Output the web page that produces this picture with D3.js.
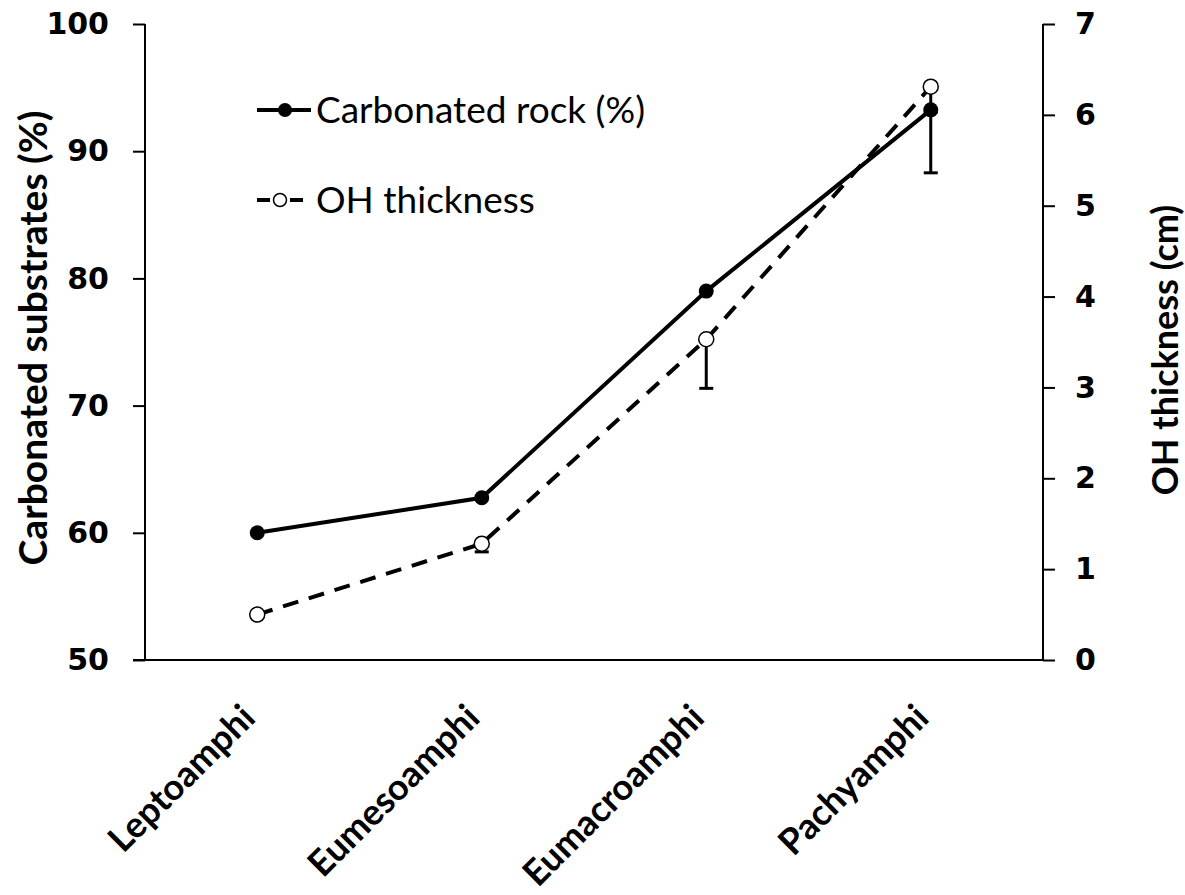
<!DOCTYPE html>
<html>
<head>
<meta charset="utf-8">
<script src="https://cdn.jsdelivr.net/npm/d3@7"></script>
<style>
  body { margin: 0; background: #fff; }
</style>
</head>
<body>
<div id="chart"></div>
<script>
// chart values
var categories = ["Leptoamphi", "Eumesoamphi", "Eumacroamphi", "Pachyamphi"];
var carbonated = [60.0, 62.75, 79.0, 93.25];
var carbonatedErr = [0, 0, 0, 4.95];
var ohThickness = [0.50, 1.28, 3.53, 6.31];
var ohErr = [0, 0.09, 0.54, 0.28];
var leftTicks = [50, 60, 70, 80, 90, 100];
var rightTicks = [0, 1, 2, 3, 4, 5, 6, 7];

// set the dimensions and margins of the graph
var margin = {top: 24, right: 142, bottom: 235, left: 145},
    width = 1185 - margin.left - margin.right,
    height = 895 - margin.top - margin.bottom;

var svg = d3.select("#chart")
  .append("svg")
    .attr("width", 1185)
    .attr("height", 895)
  .append("g")
    .attr("transform", "translate(" + margin.left + "," + margin.top + ")");

var x = d3.scaleBand().domain(categories).range([0, width]);
var yL = d3.scaleLinear().domain([50, 100]).range([height, 0]);
var yR = d3.scaleLinear().domain([0, 7]).range([height, 0]);
var cx = function(i) { return x(categories[i]) + x.bandwidth() / 2; };

var tickFont = "'DejaVu Sans', sans-serif";
var textFont = "Lato, 'Open Sans', sans-serif";

// left axis
var axL = svg.append("g")
  .call(d3.axisLeft(yL).tickValues(leftTicks).tickSize(12).tickPadding(24));
// right axis
var axR = svg.append("g")
  .attr("transform", "translate(" + width + ",0)")
  .call(d3.axisRight(yR).tickValues(rightTicks).tickFormat(d3.format("d")).tickSize(12).tickPadding(20));
[axL, axR].forEach(function(a) {
  a.select(".domain").attr("stroke", "#000").attr("stroke-width", 2)
    .attr("d", "M0,0V" + height);
  a.selectAll(".tick line").attr("stroke", "#000").attr("stroke-width", 2);
  a.selectAll(".tick text")
    .attr("fill", "#000")
    .style("font-family", tickFont)
    .style("font-weight", "bold")
    .style("font-size", "30px");
});

// bottom axis line
svg.append("line")
  .attr("x1", -12).attr("x2", width)
  .attr("y1", height).attr("y2", height)
  .attr("stroke", "#000").attr("stroke-width", 2);

// category labels
svg.selectAll(".cat")
  .data(categories)
  .enter()
  .append("text")
    .attr("class", "cat")
    .attr("transform", function(d, i) { return "translate(" + cx(i) + "," + (height + 60) + ") rotate(-45)"; })
    .attr("text-anchor", "end")
    .style("font-family", textFont)
    .style("font-weight", "bold")
    .style("font-size", "36px")
    .text(function(d) { return d; });

// axis titles
svg.append("text")
  .attr("transform", "translate(-98," + (height / 2 - 4) + ") rotate(-90)")
  .attr("text-anchor", "middle")
  .style("font-family", textFont)
  .style("font-weight", "bold")
  .style("font-size", "39px")
  .text("Carbonated substrates (%)");

svg.append("text")
  .attr("transform", "translate(" + (width + 135) + "," + (height / 2 + 8) + ") rotate(-90)")
  .attr("text-anchor", "middle")
  .style("font-family", textFont)
  .style("font-weight", "bold")
  .style("font-size", "36px")
  .text("OH thickness (cm)");

// lines
var lineL = d3.line().x(function(d, i) { return cx(i); }).y(function(d) { return yL(d); });
var lineR = d3.line().x(function(d, i) { return cx(i); }).y(function(d) { return yR(d); });

svg.append("path")
  .datum(ohThickness)
  .attr("d", lineR)
  .attr("fill", "none")
  .attr("stroke", "#000")
  .attr("stroke-width", 4)
  .attr("stroke-dasharray", "16,11");

svg.append("path")
  .datum(carbonated)
  .attr("d", lineL)
  .attr("fill", "none")
  .attr("stroke", "#000")
  .attr("stroke-width", 4);

// error bars (minus direction)
function errBars(vals, errs, scale) {
  var g = svg.append("g");
  vals.forEach(function(v, i) {
    if (!errs[i]) return;
    var y0 = scale(v), y1 = scale(v - errs[i]);
    g.append("line").attr("x1", cx(i)).attr("x2", cx(i)).attr("y1", y0).attr("y2", y1)
      .attr("stroke", "#000").attr("stroke-width", 3);
    g.append("line").attr("x1", cx(i) - 7).attr("x2", cx(i) + 7).attr("y1", y1).attr("y2", y1)
      .attr("stroke", "#000").attr("stroke-width", 3);
  });
}
errBars(carbonated, carbonatedErr, yL);
errBars(ohThickness, ohErr, yR);

// markers
svg.append("g").selectAll("circle")
  .data(carbonated)
  .enter()
  .append("circle")
    .attr("cx", function(d, i) { return cx(i); })
    .attr("cy", function(d) { return yL(d); })
    .attr("r", 7.5)
    .attr("fill", "#000");

svg.append("g").selectAll("circle")
  .data(ohThickness)
  .enter()
  .append("circle")
    .attr("cx", function(d, i) { return cx(i); })
    .attr("cy", function(d) { return yR(d); })
    .attr("r", 7.5)
    .attr("fill", "#fff")
    .attr("stroke", "#000")
    .attr("stroke-width", 1.5);

// legend
var legend = svg.append("g").attr("transform", "translate(112,86)");
legend.append("line").attr("x1", 0).attr("x2", 54).attr("y1", 0).attr("y2", 0)
  .attr("stroke", "#000").attr("stroke-width", 4);
legend.append("circle").attr("cx", 28).attr("cy", 0).attr("r", 7).attr("fill", "#000");
legend.append("text").attr("x", 59).attr("y", 0).attr("dy", "0.35em")
  .style("font-family", textFont).style("font-size", "37px").text("Carbonated rock (%)");

legend.append("line").attr("x1", 0).attr("x2", 46).attr("y1", 90).attr("y2", 90)
  .attr("stroke", "#000").attr("stroke-width", 4).attr("stroke-dasharray", "13,20");
legend.append("circle").attr("cx", 23).attr("cy", 90).attr("r", 6.5)
  .attr("fill", "#fff").attr("stroke", "#000").attr("stroke-width", 1.5);
legend.append("text").attr("x", 59).attr("y", 90).attr("dy", "0.35em")
  .style("font-family", textFont).style("font-size", "37px").text("OH thickness");
</script>
</body>
</html>
